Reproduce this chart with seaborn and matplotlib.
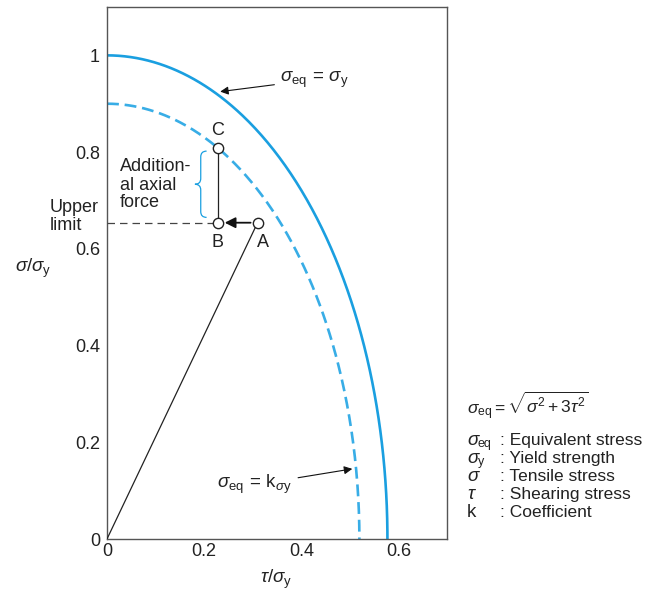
import numpy as np
import pandas as pd
import matplotlib
matplotlib.use("Agg")
import matplotlib.pyplot as plt
import seaborn as sns
from matplotlib.path import Path
from matplotlib.patches import PathPatch

# ---------------- data ----------------
k_values = [1.0, 0.9]                 # sigma_eq = k * sigma_y curves
curve_names = ["solid", "dashed"]
point_labels = ["A", "B", "C"]
point_tau = [0.31, 0.228, 0.228]
point_sigma = [0.654, 0.654, 0.809]
x_ticks = [0.0, 0.1, 0.2, 0.3, 0.4, 0.5, 0.6, 0.7]
x_tick_labels = ["0", "", "0.2", "", "0.4", "", "0.6", ""]
y_ticks = [0.0, 0.2, 0.4, 0.6, 0.8, 1.0]
y_tick_labels = ["0", "0.2", "0.4", "0.6", "0.8", "1"]
legend_symbol_main = ["σ", "σ", "σ", "τ", "k"]
legend_symbol_sub = ["eq", "y", "", "", ""]
legend_symbol_italic = [True, True, True, True, False]
legend_desc = [": Equivalent stress", ": Yield strength", ": Tensile stress",
               ": Shearing stress", ": Coefficient"]

# ---------------- style ----------------
sns.set_theme(style="white")
plt.rcParams["font.family"] = ["Liberation Sans", "DejaVu Sans"]
plt.rcParams["mathtext.fontset"] = "custom"
plt.rcParams["mathtext.rm"] = "Liberation Sans"
plt.rcParams["mathtext.it"] = "Liberation Sans:italic"
plt.rcParams["mathtext.sf"] = "Liberation Sans"

FS = 13
MFS = 13.5
TXT = "#222222"
SPINE = "#555555"
BLUE = "#1a9fe0"
BLUE2 = "#38ade6"

fig = plt.figure(figsize=(6.46, 5.94), dpi=100)
L, R, B_, T = 107, 447, 539, 7
W, H = 646, 594
ax = fig.add_axes([L / W, 1 - B_ / H, (R - L) / W, (B_ - T) / H])

# curves from the chart's own formula sigma_eq = sqrt(sigma^2 + 3 tau^2)
theta = np.linspace(0, np.pi / 2, 300)
rows = []
for k, name in zip(k_values, curve_names):
    for t in theta:
        rows.append({"tau": k / np.sqrt(3) * np.sin(t), "sigma": k * np.cos(t), "curve": name})
df = pd.DataFrame(rows)
sns.lineplot(data=df, x="tau", y="sigma", hue="curve", style="curve", sort=False,
             palette={"solid": BLUE, "dashed": BLUE2},
             dashes={"solid": "", "dashed": (4.5, 2.2)}, lw=1.9, legend=False, ax=ax)

# line from origin to A
ax.plot([0, point_tau[0]], [0, point_sigma[0]], color="#222222", lw=0.9, zorder=3)
# B to C
ax.plot([point_tau[1], point_tau[2]], [point_sigma[1], point_sigma[2]], color="#222222", lw=0.9, zorder=3)
# dashed upper limit
ax.plot([0, point_tau[1]], [point_sigma[1], point_sigma[1]], color="#444444", lw=0.9,
        dashes=(6, 4), zorder=3)
# arrow A -> B
ax.annotate("", xy=(point_tau[1], point_sigma[1]), xytext=(point_tau[0], point_sigma[0]),
            arrowprops=dict(arrowstyle="-|>", color="#111111", lw=1.3, shrinkA=5, shrinkB=5,
                            mutation_scale=16), zorder=4)
pts = pd.DataFrame({"tau": point_tau, "sigma": point_sigma, "label": point_labels})
sns.scatterplot(data=pts, x="tau", y="sigma", s=55, color="white", edgecolor="#222222",
                linewidth=1.0, zorder=5, ax=ax, legend=False)

# point labels
ax.text(point_tau[2], point_sigma[2] + 0.035, "C", ha="center", va="center", fontsize=FS, color=TXT)
ax.text(point_tau[1], point_sigma[1] - 0.04, "B", ha="center", va="center", fontsize=FS, color=TXT)
ax.text(point_tau[0] + 0.011, point_sigma[0] - 0.04, "A", ha="center", va="center", fontsize=FS, color=TXT)

# "Additional axial force"
for txt, yb in zip(["Addition-", "al axial", "force"], [0.7605, 0.7226, 0.686]):
    ax.text(0.027, yb, txt, ha="left", va="baseline", fontsize=FS, color=TXT)
for txt, yb in zip(["Upper", "limit"], [0.676, 0.638]):
    ax.text(-0.1175, yb, txt, ha="left", va="baseline", fontsize=FS, color=TXT, clip_on=False)

# brace
xr, xm, xl = 0.205, 0.193, 0.181
yt, yb, ym = 0.802, 0.665, 0.7335
d = 0.012
verts = [(xr, yt), (xm, yt), (xm, yt - d),
         (xm, ym + d),
         (xm, ym), (xl, ym),
         (xm, ym), (xm, ym - d),
         (xm, yb + d),
         (xm, yb), (xr, yb)]
codes = [Path.MOVETO, Path.CURVE3, Path.CURVE3,
         Path.LINETO,
         Path.CURVE3, Path.CURVE3,
         Path.CURVE3, Path.CURVE3,
         Path.LINETO,
         Path.CURVE3, Path.CURVE3]
ax.add_patch(PathPatch(Path(verts, codes), fill=False, edgecolor=BLUE, lw=0.9, zorder=3))

# annotations
ax.annotate(r"$\sigma_{\mathrm{eq}}\,=\,\sigma_{\mathrm{y}}$", xy=(0.233, 0.925), xytext=(0.357, 0.950),
            ha="left", va="center", fontsize=MFS, color=TXT,
            arrowprops=dict(arrowstyle="-|>", color="#111111", lw=0.8, shrinkA=2, shrinkB=0,
                            mutation_scale=12))
ax.annotate(r"$\sigma_{\mathrm{eq}}\,=\,\mathrm{k}_{\sigma\mathrm{y}}$", xy=(0.505, 0.145), xytext=(0.227, 0.112),
            ha="left", va="center", fontsize=MFS, color=TXT,
            arrowprops=dict(arrowstyle="-|>", color="#111111", lw=0.8, shrinkA=2, shrinkB=0,
                            mutation_scale=12))

# axes
ax.set_xlim(0, 0.7)
ax.set_ylim(0, 1.1)
ax.set_xticks(x_ticks)
ax.set_xticklabels(x_tick_labels)
ax.set_yticks(y_ticks)
ax.set_yticklabels(y_tick_labels)
ax.tick_params(direction="in", length=7, width=0.9, color=SPINE, labelsize=FS, labelcolor=TXT)
ax.tick_params(axis="x", pad=3)
ax.tick_params(axis="y", pad=5)
ax.set_xlabel("")
ax.set_ylabel("")
for s in ax.spines.values():
    s.set_color(SPINE)
    s.set_linewidth(1.0)

fig.text(276 / W, 1 - 579 / H, r"$\tau/\sigma_{\mathrm{y}}$", ha="center", va="center", fontsize=MFS, color=TXT)
fig.text(15 / W, 1 - 268 / H, r"$\sigma/\sigma_{\mathrm{y}}$", ha="left", va="center", fontsize=MFS, color=TXT)

# legend text on right
fig.text(467 / W, 1 - 406 / H, r"$\sigma_{\mathrm{eq}} = \sqrt{\sigma^2 + 3\tau^2}$", ha="left", va="center",
         fontsize=12.5, color=TXT)
for i, (main, sub, it, desc) in enumerate(zip(legend_symbol_main, legend_symbol_sub,
                                                legend_symbol_italic, legend_desc)):
    yb = 445 + i * 18
    fig.text(467 / W, 1 - yb / H, main, ha="left", va="baseline", fontsize=MFS, color=TXT,
             fontstyle="italic" if it else "normal")
    if sub:
        fig.text(478 / W, 1 - (yb + 2) / H, sub, ha="left", va="baseline", fontsize=9, color=TXT)
    fig.text(500 / W, 1 - yb / H, desc, ha="left", va="baseline", fontsize=12.5, color=TXT)

fig.savefig("out.png", dpi=100)
